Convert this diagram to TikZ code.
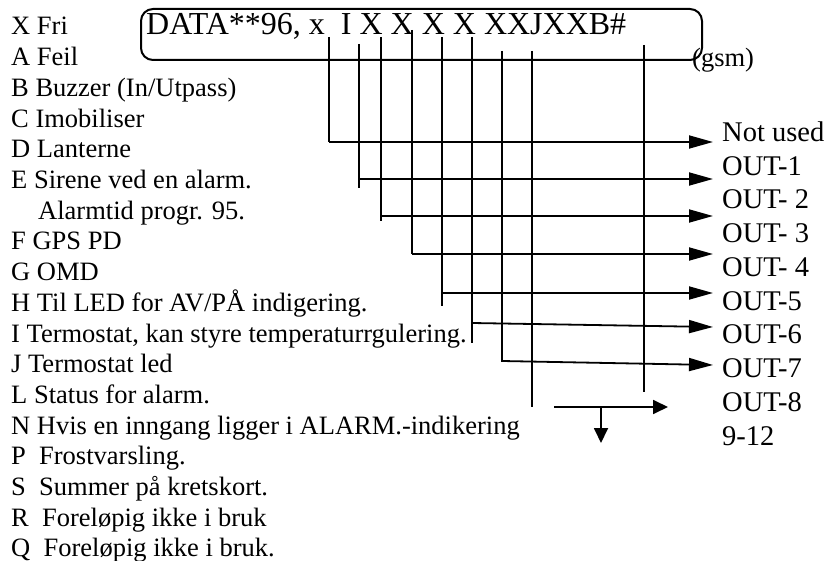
\documentclass[tikz,border=0pt]{standalone}
\usepackage{fontspec}
\setmainfont{Liberation Serif}
\usetikzlibrary{arrows.meta}
\begin{document}
\begin{tikzpicture}[x=1pt,y=-1pt,
  lst/.style={anchor=base west,inner sep=0pt,font=\fontsize{26.5}{30}\selectfont},
  outl/.style={anchor=base west,inner sep=0pt,font=\fontsize{28.5}{34}\selectfont},
  wire/.style={line width=1.8pt},
  arr/.style={wire,-{Triangle[length=24pt,width=13pt]}},
  sarr/.style={wire,-{Triangle[length=15pt,width=14pt]}},
  ]
\useasboundingbox (0,0) rectangle (830,561);
% left legend
\node[lst] (lX) at (11,35) {X Fri};
\node[lst] (lA) at (11,65.7) {A Feil};
\node[lst] (lB) at (11,96.4) {B Buzzer (In/Utpass)};
\node[lst] (lC) at (11,127.1) {C Imobiliser};
\node[lst] (lD) at (11,157.8) {D Lanterne};
\node[lst] (lE) at (11,188.5) {E Sirene ved en alarm.};
\node[lst] (lE2) at (38,219.2) {Alarmtid progr. 95.};
\node[lst] (lF) at (11,249.9) {F GPS PD};
\node[lst] (lG) at (11,280.6) {G OMD};
\node[lst] (lH) at (11,311.3) {H Til LED for AV/PÅ indigering.};
\node[lst] (lI) at (11,342) {I Termostat, kan styre temperaturrgulering.};
\node[lst] (lJ) at (11,372.7) {J Termostat led};
\node[lst] (lL) at (11,403.4) {L Status for alarm.};
\node[lst] (lN) at (11,434.1) {N Hvis en inngang ligger i ALARM.-indikering};
\node[lst] (lP) at (11,464.8) {P\ \ Frostvarsling.};
\node[lst] (lS) at (11,495.5) {S\ \ Summer på kretskort.};
\node[lst] (lR) at (11,526.2) {R\ \ Foreløpig ikke i bruk};
\node[lst] (lQ) at (11,556.9) {Q\ \ Foreløpig ikke i bruk.};
% code box
\draw[line width=2pt,rounded corners=12pt] (141,9) rectangle (702,60);
\node[anchor=base west,inner sep=0pt,font=\fontsize{32}{38}\selectfont] (code) at (146,35) {DATA**96, x\ \ I X X X X XXJXXB\#};
\node[lst] (gsm) at (692,67) {(gsm)};
% right labels
\node[outl] (o0) at (722,141.5) {Not used};
\node[outl] (o1) at (722,175.3) {OUT-1};
\node[outl] (o2) at (722,209) {OUT- 2};
\node[outl] (o3) at (722,242.8) {OUT- 3};
\node[outl] (o4) at (722,276.5) {OUT- 4};
\node[outl] (o5) at (722,310.3) {OUT-5};
\node[outl] (o6) at (722,344) {OUT-6};
\node[outl] (o7) at (722,377.8) {OUT-7};
\node[outl] (o8) at (722,411.5) {OUT-8};
\node[outl] (o9) at (722,445.3) {9-12};
% wire coordinates
\coordinate (t1) at (329,37);  \coordinate (b1) at (329,142);
\coordinate (t2) at (359,44);  \coordinate (b2) at (359,188);
\coordinate (t3) at (381,37);  \coordinate (b3) at (381,221);
\coordinate (t4) at (412,30);  \coordinate (b4) at (412,254);
\coordinate (t5) at (442,37);  \coordinate (b5) at (442,306);
\coordinate (t6) at (472,37);  \coordinate (b6) at (472,343);
\coordinate (t7) at (502,51);  \coordinate (b7) at (502,362);
\coordinate (t8) at (532,51);  \coordinate (b8) at (532,407);
\coordinate (t9) at (644,45);  \coordinate (b9) at (644,392);
\coordinate (e1) at (713,142);
\coordinate (e2) at (713,179);
\coordinate (e3) at (713,216);
\coordinate (e4) at (713,254);
\coordinate (e5) at (713,293);
\coordinate (s6) at (472,323); \coordinate (e6) at (713,327);
\coordinate (s7) at (502,361); \coordinate (e7) at (713,365);
\foreach \i in {1,...,9} {\draw[wire] (t\i) -- (b\i);}
\draw[arr] (b1) -- (e1);
\draw[arr] (t2 |- e2) -- (e2);
\draw[arr] (t3 |- e3) -- (e3);
\draw[arr] (b4) -- (e4);
\draw[arr] (t5 |- e5) -- (e5);
\draw[arr] (s6) -- (e6);
\draw[arr] (s7) -- (e7);
% bottom arrows
\coordinate (h0) at (554,407);
\coordinate (h1) at (668,407);
\coordinate (d0) at (601,407);
\coordinate (d1) at (601,443);
\draw[sarr] (h0) -- (h1);
\draw[sarr] (d0) -- (d1);
\end{tikzpicture}
\end{document}
